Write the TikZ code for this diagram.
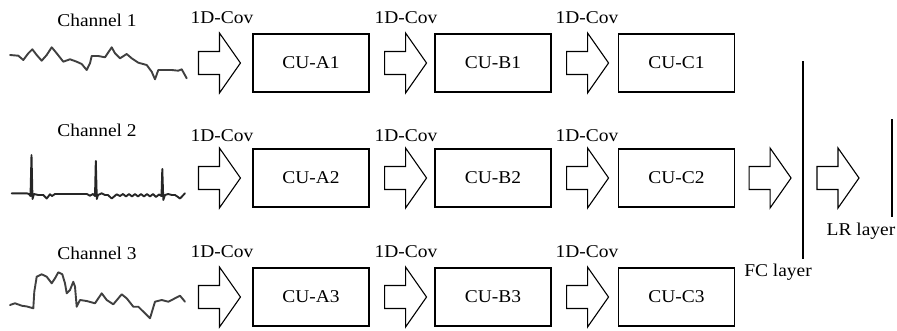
\documentclass[tikz,border=0pt]{standalone}
\usepackage{fontspec}
\setmainfont{Liberation Serif}[FakeStretch=1.08]
\newcommand\lblfont{\fontsize{18}{20}\selectfont}
\begin{document}
\begin{tikzpicture}[x=1pt,y=-1pt,line width=1.1pt,
  box/.style={draw,minimum width=116pt,minimum height=58pt,inner sep=0pt,font=\lblfont},
  lbl/.style={inner sep=0pt,anchor=base,font=\lblfont},
  wave/.style={draw=black!75,line width=1.9pt,line join=round,line cap=round},
  barrow/.pic={\draw[line join=miter] (0,-11.5) -- (21,-11.5) -- (21,-30) -- (42,0)
               -- (21,30) -- (21,11.5) -- (0,11.5) -- cycle;}]
\useasboundingbox (0,0) rectangle (897,330);

% convolution units, three channels x three stages
\foreach \r/\y in {1/63,2/178,3/297}{
  \node[box] (A\r) at (311,\y)   {CU-A\r};
  \node[box] (B\r) at (493,\y)   {CU-B\r};
  \node[box] (C\r) at (676.5,\y) {CU-C\r};
  \pic at ([xshift=-54pt]A\r.west) {barrow};
  \pic at ([xshift=15pt]A\r.east) {barrow};
  \pic at ([xshift=15pt]B\r.east) {barrow};
}

% 1D-Cov labels above the block arrows
\foreach \r/\b in {1/23,2/141.5,3/257}{
  \node[lbl] (cova\r) at (222,\b) {1D-Cov};
  \node[lbl] (covb\r) at (406,\b) {1D-Cov};
  \node[lbl] (covc\r) at (587,\b) {1D-Cov};
}

% channel names
\node[lbl] (ch1) at (97,26.5) {Channel 1};
\node[lbl] (ch2) at (97,136)  {Channel 2};
\node[lbl] (ch3) at (97,259)  {Channel 3};

% fully connected and logistic regression layers
\coordinate (fctop) at (803,61);
\coordinate (fcbot) at (803,259);
\coordinate (lrtop) at (892,119);
\coordinate (lrbot) at (892,217);
\draw (fctop) -- (fcbot);
\draw (lrtop) -- (lrbot);
\pic at ([xshift=14pt]C2.east) {barrow};
\pic at (817,178) {barrow};
\node[lbl] (fc) at (778,276) {FC layer};
\node[lbl] (lr) at (861,235) {LR layer};

% input signals
\draw[wave] (10,55) -- (18.3,55.7) -- (23.3,60) -- (28.3,53.3) -- (32.3,49.3) -- (36.7,55)
  -- (41.7,60.7) -- (46.7,55) -- (51.7,47.3) -- (56.7,53.3) -- (63.3,61.7) -- (70,59.3)
  -- (76.7,61.7) -- (81.7,64) -- (86.7,70) -- (90,63.3) -- (91.7,56) -- (98.3,56)
  -- (105,57.3) -- (111.7,47.3) -- (115,53.3) -- (120,58.3) -- (126.7,54) -- (131.7,58.3)
  -- (138.3,62.7) -- (146.7,65) -- (151.7,71.7) -- (155,79.3) -- (158.3,70) -- (165,70)
  -- (171.7,70) -- (178.3,70.7) -- (181.7,69.3) -- (186.7,78.3);

\draw[wave,draw=black!85] (11.7,193.3) -- (26.7,193.3) -- (29,194) -- (30.5,196) -- (31.5,155)
  -- (32.5,199) -- (34,194) -- (38.3,195) -- (43.3,195) -- (46.7,198.5) -- (50,194.3)
  -- (52,196) -- (55,194) -- (86.7,194) -- (90,195.7) -- (93,194) -- (95,196) -- (95.8,161)
  -- (96.8,199) -- (98,195) -- (101.7,193.3) -- (105,195) -- (108,195) -- (111.7,198.5)
  -- (116.7,194.3) -- (120,196) -- (123,194) -- (126,196.5) -- (129,194) -- (132,196.5)
  -- (135,194) -- (138,196.5) -- (141,194) -- (144,196.5) -- (147,194) -- (150,196.5)
  -- (153,194) -- (156,197) -- (159,194.5) -- (161.5,196) -- (162.3,169) -- (163.3,200)
  -- (165,195) -- (168,194) -- (172,195) -- (175,195) -- (178,197) -- (180,198.5)
  -- (185,193.3);

\draw[wave] (10,305) -- (15,303.3) -- (21.7,305.7) -- (27,306.5) -- (33.3,308.3)
  -- (34.3,291.7) -- (36.7,276.7) -- (41.7,274.3) -- (46.7,276.7) -- (51.7,283.3)
  -- (55,278.3) -- (58.3,272.3) -- (62.3,274.3) -- (65,283.3) -- (66.7,293.3) -- (70,290)
  -- (73.3,281.7) -- (75,286.7) -- (76.7,306.7) -- (80,300) -- (86.7,301) -- (95,303.3)
  -- (101.7,293.3) -- (106.7,300) -- (113.3,304.3) -- (121.7,294.3) -- (126.7,298.3)
  -- (133.3,306.7) -- (138.3,306.7) -- (145,313.3) -- (150,318.3) -- (155,301.7)
  -- (161.7,300) -- (168.3,301.7) -- (175,298.3) -- (180,295.7) -- (185,301.7);
\end{tikzpicture}
\end{document}
